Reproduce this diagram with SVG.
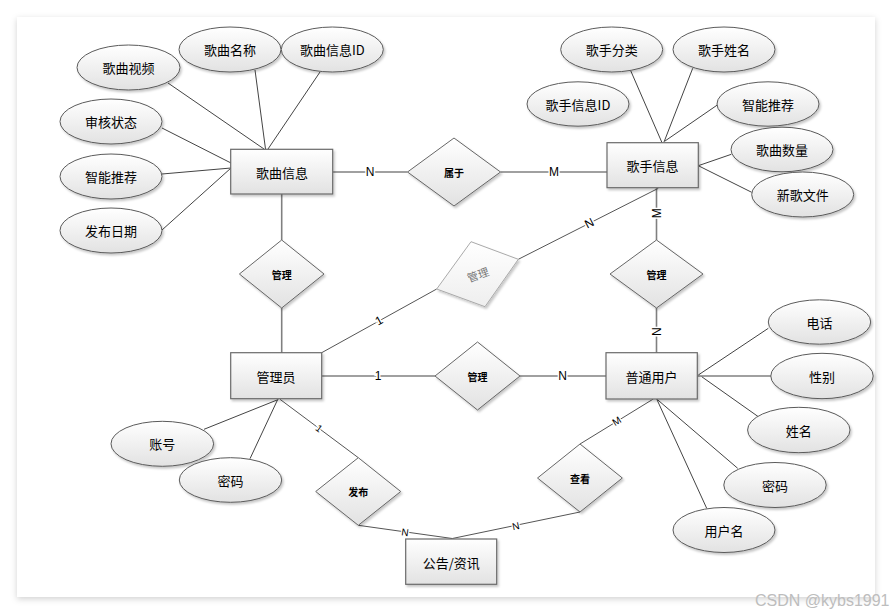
<svg xmlns="http://www.w3.org/2000/svg" width="894" height="615" viewBox="0 0 894 615">
<defs>
<linearGradient id="g" x1="0" y1="0" x2="0" y2="1">
<stop offset="0" stop-color="#ffffff"/>
<stop offset="1" stop-color="#e2e2e2"/>
</linearGradient>
<linearGradient id="gl" x1="0" y1="0" x2="0" y2="1">
<stop offset="0" stop-color="#ffffff"/>
<stop offset="1" stop-color="#eeeeee"/>
</linearGradient>
<filter id="sh" x="-20%" y="-20%" width="140%" height="150%">
<feDropShadow dx="1.5" dy="2" stdDeviation="1.2" flood-color="#000" flood-opacity="0.22"/>
</filter>
<filter id="card" x="-5%" y="-5%" width="110%" height="110%">
<feDropShadow dx="0" dy="2" stdDeviation="3" flood-color="#000" flood-opacity="0.18"/>
</filter>
</defs>
<style>
.ent{fill:url(#g);stroke:#6a6a6a;stroke-width:1.2;filter:url(#sh)}
.att{fill:url(#g);stroke:#5a5a5a;stroke-width:1;filter:url(#sh)}
.rel{fill:url(#g);stroke:#666;stroke-width:1;filter:url(#sh)}
.relg{fill:url(#gl);stroke:#aaa;stroke-width:1;filter:url(#sh)}
.t{font-family:"Noto Sans CJK SC","Liberation Sans",sans-serif;font-size:13px;fill:#000;text-anchor:middle;dominant-baseline:central}
.tr{font-family:"Noto Sans CJK SC","Liberation Sans",sans-serif;font-size:10px;font-weight:bold;fill:#000;text-anchor:middle;dominant-baseline:central}
.trg{font-family:"Noto Sans CJK SC","Liberation Sans",sans-serif;font-size:11px;fill:#777;text-anchor:middle;dominant-baseline:central}
.la{stroke:#444;stroke-width:1;fill:none}
.lr{stroke:#808080;stroke-width:1.6;fill:none}
.ld{stroke:#555;stroke-width:1;fill:none}
.lb{font-family:"Liberation Sans",sans-serif;font-size:12px;fill:#000;text-anchor:middle;dominant-baseline:central;stroke:#fff;stroke-width:3;paint-order:stroke}
.ls{font-family:"Liberation Sans",sans-serif;font-size:10px;fill:#000;text-anchor:middle;dominant-baseline:central;stroke:#fff;stroke-width:2.5;paint-order:stroke}
</style>
<rect x="0" y="0" width="894" height="615" fill="#ffffff"/>
<rect x="17" y="17" width="858" height="580" fill="#ffffff" filter="url(#card)"/>

<g id="connectors">
<!-- 歌曲信息 attributes -->
<line class="la" x1="168" y1="83" x2="264" y2="149"/>
<line class="la" x1="255" y1="70" x2="265.5" y2="149"/>
<line class="la" x1="320" y1="72" x2="268" y2="149"/>
<line class="la" x1="162" y1="128" x2="231" y2="163"/>
<line class="la" x1="162" y1="174" x2="231" y2="168"/>
<line class="la" x1="162" y1="230" x2="231" y2="168"/>
<!-- 歌手信息 attributes -->
<line class="la" x1="630.7" y1="70.7" x2="662" y2="142.7"/>
<line class="la" x1="692.7" y1="68.3" x2="664" y2="142"/>
<line class="la" x1="717.3" y1="105" x2="665" y2="141"/>
<line class="la" x1="731.3" y1="154.3" x2="698.3" y2="165.7"/>
<line class="la" x1="751.7" y1="192.3" x2="698.3" y2="165.7"/>
<!-- 管理员 attributes -->
<line class="la" x1="204" y1="429.3" x2="278.3" y2="399.5"/>
<line class="la" x1="250" y1="458.7" x2="277.7" y2="399.5"/>
<!-- 普通用户 attributes -->
<line class="la" x1="768.3" y1="328.3" x2="698.3" y2="375"/>
<line class="lr" x1="697" y1="376" x2="771" y2="376"/>
<line class="la" x1="701.7" y1="376.7" x2="758.3" y2="416.7"/>
<line class="la" x1="656.7" y1="399" x2="737.7" y2="468.3"/>
<line class="la" x1="656.7" y1="399" x2="706.7" y2="508.3"/>
<!-- relationships -->
<line class="lr" x1="333" y1="172" x2="407.5" y2="172"/>
<line class="lr" x1="500.5" y1="172" x2="607" y2="172"/>
<line class="lr" x1="281.7" y1="194" x2="281.7" y2="240"/>
<line class="lr" x1="281.7" y1="308" x2="281.7" y2="353"/>
<line class="lr" x1="656.5" y1="188" x2="656.5" y2="240"/>
<line class="lr" x1="656.5" y1="308" x2="656.5" y2="353"/>
<line class="lr" x1="322" y1="376" x2="435" y2="376"/>
<line class="lr" x1="520" y1="376" x2="606" y2="376"/>
<line class="ld" x1="321.7" y1="352.7" x2="436.7" y2="289"/>
<line class="ld" x1="518.3" y1="259.3" x2="658.3" y2="188.3"/>
<line class="ld" x1="280" y1="399.3" x2="358.3" y2="457.7"/>
<line class="ld" x1="358.3" y1="525.3" x2="452.3" y2="538.5"/>
<line class="ld" x1="580" y1="512" x2="452.3" y2="538.5"/>
<line class="ld" x1="580" y1="444" x2="653.3" y2="399"/>
<!-- cardinality labels -->
<text class="lb" x="370" y="172">N</text>
<text class="lb" x="554" y="172">M</text>
<text class="lb" x="378" y="376">1</text>
<text class="lb" x="562.7" y="376">N</text>
<text class="lb" transform="translate(656.5,213.3) rotate(-90)">M</text>
<text class="lb" transform="translate(656.5,331.7) rotate(-90)">N</text>
<text class="lb" transform="translate(379,320.7) rotate(-29)">1</text>
<text class="lb" transform="translate(589.3,223.3) rotate(-27)">N</text>
<text class="ls" transform="translate(319,428.3) rotate(37)">1</text>
<text class="ls" transform="translate(405,532.3) rotate(8)">N</text>
<text class="ls" transform="translate(515.7,526) rotate(-12)">N</text>
<text class="ls" transform="translate(616.7,421) rotate(-32)">M</text>
</g>

<g id="song">
<rect class="ent" x="230.7" y="149.3" width="102" height="44.7"/>
<text class="t" x="282" y="172">歌曲信息</text>
</g>
<g id="singer">
<rect class="ent" x="607" y="142.7" width="91.3" height="45"/>
<text class="t" x="652.5" y="165">歌手信息</text>
</g>
<g id="admin">
<rect class="ent" x="230.7" y="352.7" width="91" height="46"/>
<text class="t" x="276" y="376">管理员</text>
</g>
<g id="user">
<rect class="ent" x="606" y="352.7" width="91.3" height="46.3"/>
<text class="t" x="651.5" y="376">普通用户</text>
</g>
<g id="notice">
<rect class="ent" x="405.7" y="539" width="91" height="45.3"/>
<text class="t" x="451.2" y="562">公告/资讯</text>
</g>

<g id="attr-song-video"><ellipse class="att" cx="128.5" cy="67.5" rx="51.5" ry="22.5"/><text class="t" x="128.5" y="67.5">歌曲视频</text></g>
<g id="attr-song-name"><ellipse class="att" cx="230" cy="49.5" rx="51" ry="22.5"/><text class="t" x="230" y="49.5">歌曲名称</text></g>
<g id="attr-song-id"><ellipse class="att" cx="332.3" cy="49.5" rx="51" ry="22.5"/><text class="t" x="332.3" y="49.5">歌曲信息ID</text></g>
<g id="attr-song-audit"><ellipse class="att" cx="111" cy="121.5" rx="51" ry="22.5"/><text class="t" x="111" y="121.5">审核状态</text></g>
<g id="attr-song-rec"><ellipse class="att" cx="111" cy="176.5" rx="51" ry="22.5"/><text class="t" x="111" y="176.5">智能推荐</text></g>
<g id="attr-song-date"><ellipse class="att" cx="111" cy="230.5" rx="51" ry="22.5"/><text class="t" x="111" y="230.5">发布日期</text></g>

<g id="attr-singer-cat"><ellipse class="att" cx="611.7" cy="49.5" rx="51" ry="22.5"/><text class="t" x="611.7" y="49.5">歌手分类</text></g>
<g id="attr-singer-name"><ellipse class="att" cx="724" cy="49.5" rx="51" ry="22.5"/><text class="t" x="724" y="49.5">歌手姓名</text></g>
<g id="attr-singer-id"><ellipse class="att" cx="578" cy="104" rx="51" ry="22.2"/><text class="t" x="578" y="104">歌手信息ID</text></g>
<g id="attr-singer-rec"><ellipse class="att" cx="768" cy="104" rx="51" ry="22.2"/><text class="t" x="768" y="104">智能推荐</text></g>
<g id="attr-singer-count"><ellipse class="att" cx="782" cy="149.5" rx="51" ry="22.3"/><text class="t" x="782" y="149.5">歌曲数量</text></g>
<g id="attr-singer-file"><ellipse class="att" cx="802.7" cy="194.5" rx="51" ry="22.5"/><text class="t" x="802.7" y="194.5">新歌文件</text></g>

<g id="attr-admin-acc"><ellipse class="att" cx="162.3" cy="443.8" rx="51.3" ry="22.5"/><text class="t" x="162.3" y="443.8">账号</text></g>
<g id="attr-admin-pwd"><ellipse class="att" cx="230.5" cy="480" rx="51.2" ry="22.3"/><text class="t" x="230.5" y="480">密码</text></g>

<g id="attr-user-tel"><ellipse class="att" cx="819.5" cy="322" rx="51.2" ry="22.2"/><text class="t" x="819.5" y="322">电话</text></g>
<g id="attr-user-sex"><ellipse class="att" cx="822" cy="376" rx="51.2" ry="22.7"/><text class="t" x="822" y="376">性别</text></g>
<g id="attr-user-name"><ellipse class="att" cx="798.8" cy="430" rx="51.2" ry="22.7"/><text class="t" x="798.8" y="430">姓名</text></g>
<g id="attr-user-pwd"><ellipse class="att" cx="775" cy="485" rx="51.2" ry="22.5"/><text class="t" x="775" y="485">密码</text></g>
<g id="attr-user-uname"><ellipse class="att" cx="724" cy="530" rx="51" ry="22.5"/><text class="t" x="724" y="530">用户名</text></g>

<g id="rel-belong"><polygon class="rel" points="407.5,172 454,138 500.5,172 454,206"/><text class="tr" x="454" y="172">属于</text></g>
<g id="rel-manage-song"><polygon class="rel" points="239.4,274 281.7,240 324,274 281.7,308"/><text class="tr" x="281.7" y="274">管理</text></g>
<g id="rel-manage-singer-user"><polygon class="rel" points="610,274 656.5,240 703,274 656.5,308"/><text class="tr" x="656.5" y="274">管理</text></g>
<g id="rel-manage-user"><polygon class="rel" points="435,376 477.5,342 520,376 477.5,410"/><text class="tr" x="477.5" y="376">管理</text></g>
<g id="rel-manage-singer"><polygon class="relg" points="436.7,289 471,241.7 518.3,259.3 485,306.7"/><text class="trg" transform="translate(477.7,274) rotate(-20)">管理</text></g>
<g id="rel-publish"><polygon class="rel" points="315.7,491.5 358.3,457.7 400.7,491.5 358.3,525.3"/><text class="tr" x="358.3" y="491.5">发布</text></g>
<g id="rel-view"><polygon class="rel" points="537.5,478 580,444 622.3,478 580,512"/><text class="tr" x="580" y="478">查看</text></g>

<text x="755" y="606" font-family="Liberation Sans, sans-serif" font-size="16" fill="#bdbdbd">CSDN @kybs1991</text>
</svg>
